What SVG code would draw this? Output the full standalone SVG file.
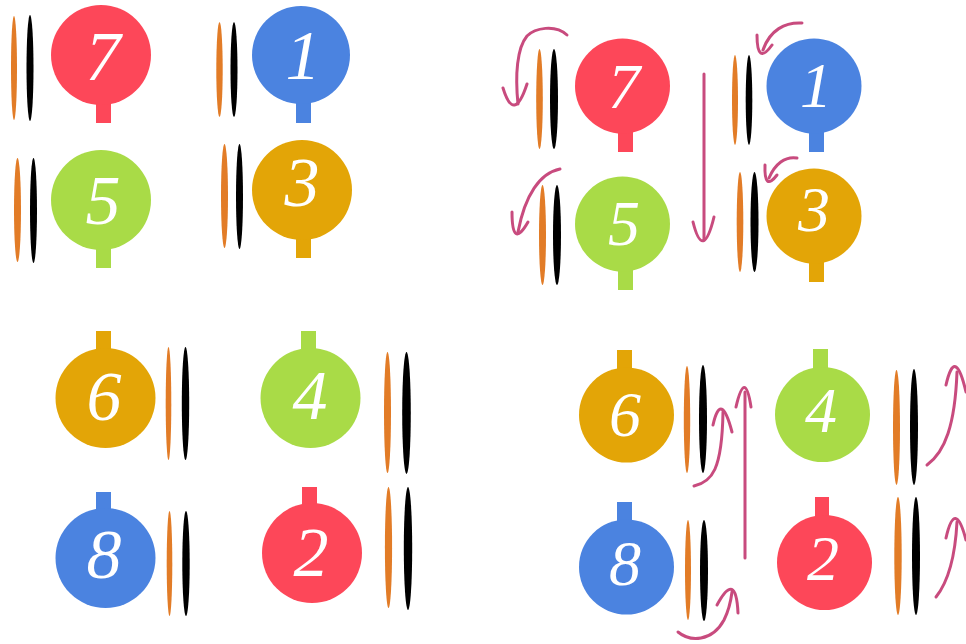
<svg xmlns="http://www.w3.org/2000/svg" width="966" height="644" viewBox="0 0 966 644">
<style>
.red{fill:#FD4759}.blue{fill:#4B83E0}.green{fill:#A9DB47}.gold{fill:#E3A507}
.ob{fill:#E27C27}.bb{fill:#000}
.num{fill:#fff;font-family:"Liberation Serif","Times New Roman",serif;font-style:italic;text-anchor:middle}
.big{font-size:70px}.sm{font-size:64px}
.arr{fill:none;stroke:#C84B7E;stroke-width:3;stroke-linecap:round;stroke-linejoin:round}
</style>
<rect width="966" height="644" fill="#fff"/>
<!-- top-left -->
<g id="tl7"><ellipse class="ob" cx="14" cy="68" rx="3" ry="52"/><ellipse class="bb" cx="30" cy="68" rx="3.5" ry="53"/><rect class="red" x="96" y="95" width="15" height="28"/><circle class="red" cx="101" cy="55" r="50"/><text class="num big" x="103" y="80">7</text></g>
<g id="tl1"><ellipse class="ob" cx="219.5" cy="69.5" rx="3.2" ry="47.5"/><ellipse class="bb" cx="234" cy="69.5" rx="3.5" ry="47.5"/><rect class="blue" x="296" y="95" width="15" height="28"/><circle class="blue" cx="301" cy="55" r="49"/><text class="num big" x="303" y="79">1</text></g>
<g id="tl5"><ellipse class="ob" cx="17.5" cy="210" rx="3.5" ry="52"/><ellipse class="bb" cx="33.5" cy="210.5" rx="3.5" ry="52.5"/><rect class="green" x="96" y="240" width="15" height="28"/><circle class="green" cx="101" cy="200" r="50"/><text class="num big" x="103" y="224">5</text></g>
<g id="tl3"><ellipse class="ob" cx="224.5" cy="196" rx="3.5" ry="52"/><ellipse class="bb" cx="239.5" cy="196.5" rx="3.5" ry="52.5"/><rect class="gold" x="296" y="230" width="15" height="28"/><circle class="gold" cx="302" cy="190" r="50"/><text class="num big" x="302" y="206">3</text></g>
<!-- top-right -->
<g id="tr7"><ellipse class="ob" cx="539.5" cy="99" rx="3.3" ry="50"/><ellipse class="bb" cx="554" cy="99" rx="4" ry="50"/><rect class="red" x="618" y="125" width="15" height="27"/><circle class="red" cx="622.5" cy="86" r="47.5"/><text class="num sm" x="624" y="108">7</text></g>
<g id="tr1"><ellipse class="ob" cx="735" cy="100" rx="3" ry="45"/><ellipse class="bb" cx="749" cy="100" rx="3.3" ry="45"/><rect class="blue" x="809" y="125" width="15" height="27"/><circle class="blue" cx="814" cy="86" r="47.5"/><text class="num sm" x="816" y="107">1</text></g>
<g id="tr5"><ellipse class="ob" cx="542.5" cy="235" rx="3.5" ry="50"/><ellipse class="bb" cx="557" cy="235" rx="4" ry="50"/><rect class="green" x="618" y="262" width="15" height="28"/><circle class="green" cx="622.5" cy="224" r="47.5"/><text class="num sm" x="624" y="245">5</text></g>
<g id="tr3"><ellipse class="ob" cx="740" cy="222" rx="3.3" ry="50"/><ellipse class="bb" cx="754.5" cy="222" rx="4" ry="50"/><rect class="gold" x="809" y="255" width="15" height="27"/><circle class="gold" cx="814" cy="216" r="47.5"/><text class="num sm" x="814" y="231">3</text></g>
<!-- bottom-left -->
<g id="bl6"><rect class="gold" x="96" y="331" width="15" height="25"/><circle class="gold" cx="105.5" cy="398" r="50"/><ellipse class="ob" cx="168.5" cy="403.5" rx="2.8" ry="56.5"/><ellipse class="bb" cx="185.5" cy="403.5" rx="3.7" ry="56.5"/><text class="num big" x="104" y="420">6</text></g>
<g id="bl4"><rect class="green" x="301" y="331" width="15" height="25"/><circle class="green" cx="310.5" cy="398" r="50"/><ellipse class="ob" cx="387.5" cy="412.5" rx="3.5" ry="60.5"/><ellipse class="bb" cx="406.5" cy="413" rx="4.3" ry="61"/><text class="num big" x="310" y="419">4</text></g>
<g id="bl8"><rect class="blue" x="96" y="492" width="15" height="25"/><circle class="blue" cx="105.5" cy="558" r="50"/><ellipse class="ob" cx="169.5" cy="563.5" rx="2.8" ry="52.5"/><ellipse class="bb" cx="186" cy="563.5" rx="3.7" ry="52.5"/><text class="num big" x="104" y="578">8</text></g>
<g id="bl2"><rect class="red" x="302" y="487" width="15" height="25"/><circle class="red" cx="312" cy="553" r="50"/><ellipse class="ob" cx="388.5" cy="547.5" rx="3.6" ry="60.5"/><ellipse class="bb" cx="408" cy="548.5" rx="4.2" ry="61.5"/><text class="num big" x="311" y="576">2</text></g>
<!-- bottom-right -->
<g id="br6"><rect class="gold" x="617" y="350" width="15" height="25"/><circle class="gold" cx="626.5" cy="415" r="47.5"/><ellipse class="ob" cx="687" cy="419.5" rx="3.2" ry="53.5"/><ellipse class="bb" cx="703" cy="419" rx="4" ry="54"/><text class="num sm" x="625" y="436">6</text></g>
<g id="br4"><rect class="green" x="813" y="349" width="15" height="25"/><circle class="green" cx="822.5" cy="414.5" r="47.5"/><ellipse class="ob" cx="896.5" cy="427.5" rx="3.5" ry="57.5"/><ellipse class="bb" cx="914" cy="427" rx="4" ry="58"/><text class="num sm" x="821" y="432">4</text></g>
<g id="br8"><rect class="blue" x="617" y="502" width="15" height="25"/><circle class="blue" cx="626.5" cy="567" r="47.5"/><ellipse class="ob" cx="688" cy="570" rx="3" ry="50"/><ellipse class="bb" cx="704" cy="570.5" rx="4" ry="50.5"/><text class="num sm" x="625" y="585">8</text></g>
<g id="br2"><rect class="red" x="815" y="497" width="14" height="25"/><circle class="red" cx="824.5" cy="562.5" r="47.5"/><ellipse class="ob" cx="898" cy="556" rx="3.7" ry="59"/><ellipse class="bb" cx="916" cy="556" rx="4" ry="59"/><text class="num sm" x="823" y="580">2</text></g>
<!-- connectors -->
<g id="connectors">
<path class="arr" d="M567,35 C555,24 535,28 527,36 C517,48 515,75 518,104"/>
<path class="arr" d="M503,88 Q514,124 527,84"/>
<path class="arr" d="M560,169 C540,173 525,195 518,232"/>
<path class="arr" d="M512,212 Q512,250 528,222"/>
<path class="arr" d="M704,74 L704,240"/>
<path class="arr" d="M693,222 Q703,262 714,217"/>
<path class="arr" d="M802,23 C785,22 770,30 763,50"/>
<path class="arr" d="M757,35 Q757,66 772,45"/>
<path class="arr" d="M797,158 C785,156 775,164 769,178"/>
<path class="arr" d="M765,165 Q764,192 777,175"/>
<path class="arr" d="M694,486 C712,482 722,470 723,412"/>
<path class="arr" d="M713,425 Q721,390 732,432"/>
<path class="arr" d="M745,558 L745,392"/>
<path class="arr" d="M736,407 Q745,368 751,407"/>
<path class="arr" d="M678,632 C690,642 712,642 724,620 C728,612 731,600 732,592"/>
<path class="arr" d="M717,605 Q736,570 738,613"/>
<path class="arr" d="M927,465 C945,452 955,425 957,372"/>
<path class="arr" d="M946,385 Q955,345 966,392"/>
<path class="arr" d="M936,597 C948,582 955,560 957,522"/>
<path class="arr" d="M946,538 Q955,498 966,540"/>
</g>
</svg>
